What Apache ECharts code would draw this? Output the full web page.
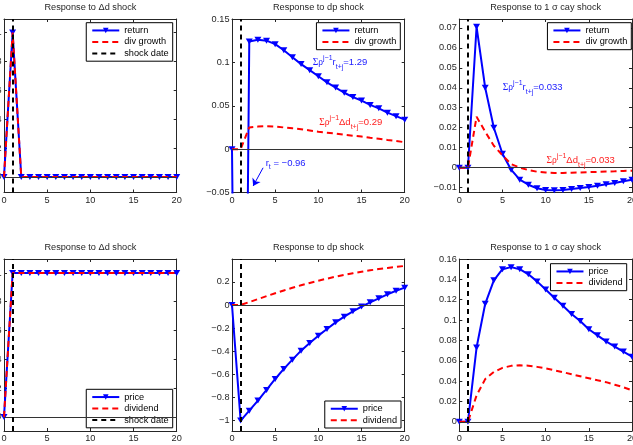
<!DOCTYPE html>
<html>
<head>
<meta charset="utf-8">
<script src="https://cdn.jsdelivr.net/npm/echarts@6/dist/echarts.min.js"></script>
<style>
  html, body { margin: 0; padding: 0; background: #fff; }
  #chart { width: 633px; height: 445px; }
</style>
</head>
<body>
<div id="chart"></div>
<script>
// horizon (periods after the shock)
var steps = [0, 1, 2, 3, 4, 5, 6, 7, 8, 9, 10, 11, 12, 13, 14, 15, 16, 17, 18, 19, 20];
var shockDate = 1;

// top row: returns and dividend growth
var dShockReturn    = [0, 1, 0, 0, 0, 0, 0, 0, 0, 0, 0, 0, 0, 0, 0, 0, 0, 0, 0, 0, 0];
var dShockDivGrowth = [0, 1, 0, 0, 0, 0, 0, 0, 0, 0, 0, 0, 0, 0, 0, 0, 0, 0, 0, 0, 0];
var dpShockReturn    = [0, -0.96, 0.124, 0.126, 0.125, 0.121, 0.114, 0.106, 0.098, 0.091, 0.084,
                        0.077, 0.071, 0.065, 0.060, 0.056, 0.051, 0.047, 0.042, 0.038, 0.034];
var dpShockDivGrowth = [0, 0, 0.025, 0.026, 0.0265, 0.026, 0.025, 0.024, 0.023, 0.0215, 0.020,
                        0.019, 0.018, 0.0165, 0.0155, 0.0145, 0.013, 0.012, 0.0105, 0.0093, 0.008];
var cayShockReturn    = [0, 0, 0.0705, 0.040, 0.020, 0.007, -0.001, -0.006, -0.0085, -0.0103, -0.0111,
                         -0.0113, -0.0111, -0.0107, -0.0102, -0.0096, -0.009, -0.0083, -0.0076, -0.0068, -0.006];
var cayShockDivGrowth = [0, 0, 0.0255, 0.018, 0.011, 0.0062, 0.0018, 0.0001, -0.0012, -0.002, -0.0024,
                         -0.0026, -0.0026, -0.0025, -0.0024, -0.0022, -0.0021, -0.0019, -0.0018, -0.0016, -0.0015];

// bottom row: price and dividend levels
var dShockPrice    = [0, 1, 1, 1, 1, 1, 1, 1, 1, 1, 1, 1, 1, 1, 1, 1, 1, 1, 1, 1, 1];
var dShockDividend = [0, 1, 1, 1, 1, 1, 1, 1, 1, 1, 1, 1, 1, 1, 1, 1, 1, 1, 1, 1, 1];
var dpShockPrice    = [0, -1.0, -0.914, -0.827, -0.735, -0.640, -0.553, -0.473, -0.395, -0.329, -0.265,
                       -0.207, -0.150, -0.101, -0.055, -0.014, 0.023, 0.058, 0.092, 0.123, 0.150];
var dpShockDividend = [0, 0, 0.025, 0.051, 0.077, 0.102, 0.126, 0.149, 0.171, 0.191, 0.210,
                       0.228, 0.245, 0.261, 0.275, 0.288, 0.300, 0.311, 0.321, 0.330, 0.338];
var cayShockPrice    = [0, 0, 0.073, 0.116, 0.139, 0.150, 0.152, 0.150, 0.145, 0.138, 0.130,
                        0.122, 0.114, 0.106, 0.099, 0.091, 0.085, 0.079, 0.074, 0.069, 0.064];
var cayShockDividend = [0, 0, 0.026, 0.042, 0.049, 0.053, 0.055, 0.0555, 0.0552, 0.054, 0.0525,
                        0.0507, 0.0488, 0.0468, 0.0448, 0.0428, 0.0408, 0.039, 0.0365, 0.034, 0.031];

// tick labels
var xTicks = [0, 5, 10, 15, 20];
var yTicksUnit = [0, 0.2, 0.4, 0.6, 0.8, 1];
var yTicksDpReturn = [-0.05, 0, 0.05, 0.1, 0.15];
var yTicksCayReturn = [-0.01, 0, 0.01, 0.02, 0.03, 0.04, 0.05, 0.06, 0.07];
var yTicksDpPrice = [-1, -0.8, -0.6, -0.4, -0.2, 0, 0.2];
var yTicksCayPrice = [0, 0.02, 0.04, 0.06, 0.08, 0.1, 0.12, 0.14, 0.16];

var titles = ['Response to \u0394d shock', 'Response to dp shock', 'Response to 1 \u03c3 cay shock',
              'Response to \u0394d shock', 'Response to dp shock', 'Response to 1 \u03c3 cay shock'];

var FONT = '"Liberation Sans", Arial, Helvetica, sans-serif';
var INK = '#262626';
var BLUE = '#0000ff';
var RED = '#ff0000';

var panels = [
  { left: 4,     top: 19,  height: 173.5, yMin: -0.108, yMax: 1.094, ticks: yTicksUnit,
    solid: ['return', dShockReturn], dashed: ['div growth', dShockDivGrowth],
    legend: { right: 460.3, top: 22.7, names: ['return', 'div growth', 'shock date'] } },
  { left: 232,   top: 19,  height: 173.5, yMin: -0.05, yMax: 0.15, ticks: yTicksDpReturn,
    solid: ['return', dpShockReturn], dashed: ['div growth', dpShockDivGrowth],
    legend: { right: 232.7, top: 22.7, names: ['return', 'div growth'] } },
  { left: 459.3, top: 19,  height: 173.5, yMin: -0.0124, yMax: 0.0744, ticks: yTicksCayReturn,
    solid: ['return', cayShockReturn], dashed: ['div growth', cayShockDivGrowth],
    legend: { right: 1.7, top: 22.7, names: ['return', 'div growth'] } },
  { left: 4,     top: 259, height: 172, yMin: -0.098, yMax: 1.097, ticks: yTicksUnit,
    solid: ['price', dShockPrice], dashed: ['dividend', dShockDividend],
    legend: { right: 460.3, top: 389.3, names: ['price', 'dividend', 'shock date'] } },
  { left: 232,   top: 259, height: 172, yMin: -1.09, yMax: 0.398, ticks: yTicksDpPrice,
    solid: ['price', dpShockPrice], dashed: ['dividend', dpShockDividend],
    legend: { right: 232, top: 401, names: ['price', 'dividend'] } },
  { left: 459.3, top: 259, height: 172, yMin: -0.009, yMax: 0.16, ticks: yTicksCayPrice,
    solid: ['price', cayShockPrice], dashed: ['dividend', cayShockDividend],
    legend: { right: 6.3, top: 263.7, names: ['price', 'dividend'] } }
];

// names drawn as plain lines in the legends (no marker)
var plainLegendNames = ['div growth', 'dividend', 'shock date'];

function pairs(values) {
  return steps.map(function (t, i) { return [t, values[i]]; });
}
function minusSign(v) { return String(v).replace('-', '\u2212'); }

var grids = [], xAxes = [], yAxes = [], series = [], legends = [];
var n = panels.length;

panels.forEach(function (p, i) {
  grids.push({ left: p.left, top: p.top, width: 172.7, height: p.height,
               containLabel: false, outerBoundsMode: 'none' });
  xAxes[i] = {
    type: 'value', gridIndex: i, min: 0, max: 20, interval: 5, position: 'bottom',
    axisLine: { onZero: false, lineStyle: { color: INK, width: 1 } },
    axisTick: { inside: true, length: 3, lineStyle: { color: INK } },
    axisLabel: { color: INK, fontSize: 9.2, fontFamily: FONT, margin: 3 },
    splitLine: { show: false }
  };
  xAxes[n + i] = {
    type: 'value', gridIndex: i, min: 0, max: 20, interval: 5, position: 'top',
    axisLine: { onZero: false, lineStyle: { color: INK, width: 1 } },
    axisTick: { inside: true, length: 3, lineStyle: { color: INK } },
    axisLabel: { show: false }, splitLine: { show: false }
  };
  yAxes[i] = {
    type: 'value', gridIndex: i, min: p.yMin, max: p.yMax, position: 'left',
    axisLine: { onZero: false, lineStyle: { color: INK, width: 1 } },
    axisTick: { inside: true, length: 3, customValues: p.ticks, lineStyle: { color: INK } },
    axisLabel: { color: INK, fontSize: 9.2, fontFamily: FONT, margin: 2.5,
                 customValues: p.ticks, formatter: minusSign },
    splitLine: { show: false }
  };
  yAxes[n + i] = {
    type: 'value', gridIndex: i, min: p.yMin, max: p.yMax, position: 'right',
    axisLine: { onZero: false, lineStyle: { color: INK, width: 1 } },
    axisTick: { inside: true, length: 3, customValues: p.ticks, lineStyle: { color: INK } },
    axisLabel: { show: false }, splitLine: { show: false }
  };

  // zero line
  series.push({
    type: 'line', name: 'zero', xAxisIndex: i, yAxisIndex: i, data: [], z: 1,
    markLine: { silent: true, symbol: 'none', animation: false, label: { show: false },
                lineStyle: { color: '#333', width: 1, type: 'solid' }, data: [{ yAxis: 0 }] }
  });
  series.push({
    type: 'line', name: p.solid[0], xAxisIndex: i, yAxisIndex: i, data: pairs(p.solid[1]), z: 2,
    symbol: 'triangle', symbolRotate: 180, symbolSize: [7, 6], clip: true,
    lineStyle: { color: BLUE, width: 2 }, itemStyle: { color: BLUE }
  });
  series.push({
    type: 'line', name: p.dashed[0], xAxisIndex: i, yAxisIndex: i, data: pairs(p.dashed[1]), z: 3,
    symbol: 'none', clip: true,
    lineStyle: { color: RED, width: 2, type: [6, 4] }, itemStyle: { color: RED }
  });
  series.push({
    type: 'line', name: 'shock date', xAxisIndex: i, yAxisIndex: i, data: [], z: 4,
    symbol: 'none', lineStyle: { color: '#000', width: 2, type: [5, 4] }, itemStyle: { color: '#000' },
    markLine: { silent: true, symbol: 'none', animation: false, label: { show: false },
                lineStyle: { color: '#000', width: 2, type: [5, 4] }, data: [{ xAxis: shockDate }] }
  });

  legends.push({
    data: p.legend.names.map(function (name) {
      return plainLegendNames.indexOf(name) >= 0
        ? { name: name, itemStyle: { opacity: 0 } }
        : { name: name };
    }),
    orient: 'vertical', right: p.legend.right, top: p.legend.top,
    backgroundColor: '#fff', borderColor: '#000', borderWidth: 1, borderRadius: 0,
    padding: [2, 4, 2, 5], itemGap: 0, itemWidth: 27, itemHeight: 7,
    selectedMode: false,
    textStyle: { color: '#000', fontSize: 9.2, fontFamily: FONT, lineHeight: 11.5 }
  });
});

// arrow pointing to the off-scale return in the dp panel
series.push({
  type: 'line', name: 'arrow', xAxisIndex: 1, yAxisIndex: 1, data: [], z: 5,
  markLine: { silent: true, symbol: ['none', 'arrow'], symbolSize: 7, animation: false,
              label: { show: false }, lineStyle: { color: BLUE, width: 1, type: 'solid' },
              data: [[{ coord: [3.6, -0.0215] }, { coord: [2.45, -0.0425] }]] }
});

var chart = echarts.init(document.getElementById('chart'));
chart.setOption({
  animation: false,
  grid: grids, xAxis: xAxes, yAxis: yAxes, series: series, legend: legends
});

// titles and sum annotations
var graphics = [];
panels.forEach(function (p, i) {
  graphics.push({
    type: 'text', x: p.left + 86.35, y: p.top - 11.8, silent: true,
    style: { text: titles[i], textAlign: 'center', textVerticalAlign: 'middle',
             font: '9.2px ' + FONT, fill: INK }
  });
});

function richStyle(color) {
  return {
    m:   { fontSize: 9.5, fontFamily: FONT, fill: color, lineHeight: 16, verticalAlign: 'middle' },
    g:   { fontSize: 9.5, fontFamily: '"Liberation Serif", serif', fill: color, lineHeight: 16, verticalAlign: 'middle' },
    sup: { fontSize: 7, fontFamily: FONT, fill: color, lineHeight: 8, verticalAlign: 'top' },
    sub: { fontSize: 7, fontFamily: FONT, fill: color, lineHeight: 8, verticalAlign: 'bottom' }
  };
}
var notes = [
  { grid: 1, at: [9.35, 0.1],     color: '#2020ff', text: '{g|\u03a3\u03c1}{sup|j\u22121}{m|r}{sub|t+j}{m|=1.29}' },
  { grid: 1, at: [10.1, 0.031],   color: '#ff2020', text: '{g|\u03a3\u03c1}{sup|j\u22121}{m|\u0394d}{sub|t+j}{m|=0.29}' },
  { grid: 1, at: [3.9, -0.016],   color: '#2020ff', text: '{m|r}{sub|t}{m| = \u22120.96}' },
  { grid: 2, at: [5.03, 0.0403],  color: '#2020ff', text: '{g|\u03a3\u03c1}{sup|j\u22121}{m|r}{sub|t+j}{m|=0.033}' },
  { grid: 2, at: [10.1, 0.0036],  color: '#ff2020', text: '{g|\u03a3\u03c1}{sup|j\u22121}{m|\u0394d}{sub|t+j}{m|=0.033}' }
];
notes.forEach(function (a) {
  var px = chart.convertToPixel({ xAxisIndex: a.grid, yAxisIndex: a.grid }, a.at);
  graphics.push({
    type: 'text', x: px[0], y: px[1], silent: true, z: 10,
    style: { text: a.text, textAlign: 'left', textVerticalAlign: 'middle', fill: a.color,
             rich: richStyle(a.color) }
  });
});
chart.setOption({ graphic: graphics });
</script>
</body>
</html>
